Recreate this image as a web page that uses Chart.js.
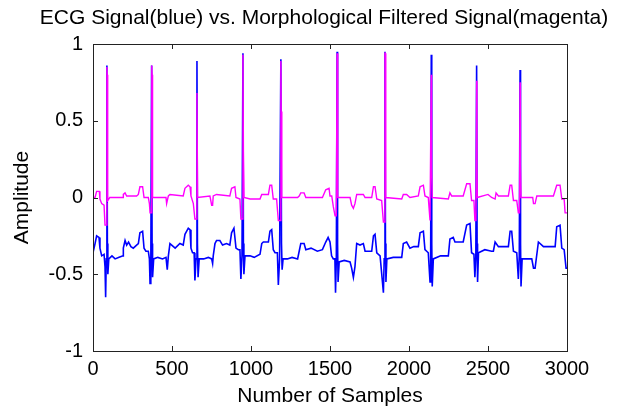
<!DOCTYPE html>
<html>
<head>
<meta charset="utf-8">
<script src="https://cdn.jsdelivr.net/npm/chart.js@4.4.1/dist/chart.umd.min.js"></script>
<style>
  html, body { margin: 0; padding: 0; background: #fff; }
  canvas { display: block; }
</style>
</head>
<body>
<canvas id="ecgChart" width="633" height="412"></canvas>
<script>
// ==========================================
// DATA
// ==========================================
const chartTitle = 'ECG Signal(blue) vs. Morphological Filtered Signal(magenta)';
const xTitle = 'Number of Samples';
const yTitle = 'Amplitude';
const xTicks = [0, 500, 1000, 1500, 2000, 2500, 3000];
const yTicks = [-1, -0.5, 0, 0.5, 1];

// [sample, amplitude]
const ecgSignal = [
  [0,-0.36],[13,-0.30],[23,-0.25],[38,-0.26],[44,-0.33],[55,-0.38],[70,-0.37],[76,-0.45],[80,-0.65],[84,-0.40],
  [88,0.86],[91,-0.30],[94,-0.50],[100,-0.40],[120,-0.38],[140,-0.40],[165,-0.39],[190,-0.38],[192,-0.33],[203,-0.28],
  [213,-0.31],[225,-0.29],[240,-0.32],[255,-0.33],[276,-0.31],[287,-0.30],[297,-0.23],[314,-0.22],[323,-0.33],[335,-0.35],
  [350,-0.35],[357,-0.40],[361,-0.56],[366,-0.40],[371,0.86],[374,-0.30],[377,-0.52],[384,-0.40],[410,-0.39],[440,-0.40],
  [462,-0.39],[470,-0.47],[477,-0.38],[487,-0.30],[520,-0.33],[550,-0.30],[571,-0.31],[582,-0.24],[603,-0.20],[614,-0.21],
  [620,-0.33],[630,-0.36],[640,-0.36],[645,-0.54],[652,-0.40],[658,0.89],[661,-0.30],[665,-0.52],[672,-0.40],[700,-0.40],
  [730,-0.39],[751,-0.40],[757,-0.43],[761,-0.38],[772,-0.30],[782,-0.28],[803,-0.28],[820,-0.31],[845,-0.30],[866,-0.31],
  [877,-0.23],[892,-0.20],[905,-0.33],[920,-0.34],[930,-0.34],[936,-0.53],[943,-0.38],[949,0.94],[952,-0.30],[955,-0.50],
  [962,-0.38],[994,-0.38],[1020,-0.39],[1057,-0.37],[1068,-0.30],[1078,-0.29],[1110,-0.29],[1120,-0.22],[1131,-0.21],[1141,-0.34],
  [1152,-0.36],[1167,-0.36],[1173,-0.57],[1181,-0.40],[1189,0.90],[1193,-0.30],[1197,-0.47],[1203,-0.40],[1230,-0.40],[1260,-0.39],
  [1295,-0.40],[1305,-0.35],[1315,-0.30],[1336,-0.30],[1347,-0.34],[1380,-0.33],[1420,-0.35],[1452,-0.34],[1473,-0.29],[1488,-0.26],
  [1500,-0.29],[1510,-0.38],[1521,-0.40],[1531,-0.40],[1535,-0.62],[1540,-0.40],[1545,0.95],[1548,-0.30],[1551,-0.55],[1558,-0.42],
  [1590,-0.41],[1627,-0.42],[1637,-0.46],[1648,-0.52],[1658,-0.45],[1669,-0.30],[1690,-0.31],[1711,-0.30],[1722,-0.35],[1764,-0.35],
  [1775,-0.25],[1785,-0.24],[1796,-0.36],[1817,-0.38],[1838,-0.62],[1843,-0.40],[1848,0.95],[1851,-0.30],[1854,-0.55],[1860,-0.40],
  [1900,-0.39],[1954,-0.39],[1964,-0.30],[1985,-0.29],[2006,-0.33],[2030,-0.32],[2059,-0.32],[2070,-0.23],[2091,-0.22],[2101,-0.34],
  [2122,-0.36],[2133,-0.55],[2137,-0.40],[2141,0.93],[2144,-0.30],[2147,-0.58],[2154,-0.40],[2200,-0.38],[2249,-0.38],[2259,-0.27],
  [2280,-0.26],[2291,-0.29],[2343,-0.29],[2365,-0.18],[2386,-0.17],[2396,-0.36],[2411,-0.37],[2417,-0.52],[2423,-0.38],[2428,0.86],
  [2431,-0.30],[2434,-0.55],[2440,-0.36],[2480,-0.34],[2523,-0.35],[2534,-0.35],[2545,-0.29],[2566,-0.32],[2629,-0.32],[2640,-0.22],
  [2650,-0.22],[2661,-0.35],[2682,-0.36],[2692,-0.53],[2698,-0.38],[2703,0.83],[2706,-0.30],[2709,-0.58],[2716,-0.40],[2750,-0.40],
  [2777,-0.40],[2788,-0.46],[2798,-0.46],[2819,-0.29],[2851,-0.32],[2925,-0.32],[2935,-0.19],[2956,-0.18],[2967,-0.33],[2982,-0.34],
  [2994,-0.46],[3000,-0.46]
];

const filteredSignal = [
  [0,0.00],[13,0.00],[23,0.04],[40,0.04],[44,-0.01],[55,-0.04],[70,-0.05],[76,-0.18],[84,-0.18],[88,0.85],
  [90,0.80],[93,-0.02],[106,0.00],[190,0.00],[192,0.02],[203,0.03],[213,0.01],[276,0.01],[287,0.02],[297,0.07],
  [314,0.07],[323,0.00],[350,0.00],[357,-0.04],[361,-0.10],[368,-0.10],[372,0.86],[374,0.80],[377,0.00],[462,0.00],
  [466,-0.04],[477,0.01],[487,0.02],[571,0.01],[582,0.06],[603,0.08],[614,0.07],[620,0.01],[635,-0.04],[645,-0.14],
  [654,-0.14],[658,0.68],[662,0.00],[740,0.01],[751,-0.05],[757,-0.05],[761,0.01],[782,0.02],[866,0.01],[877,0.06],
  [898,0.07],[905,0.00],[930,-0.01],[936,-0.14],[945,-0.14],[949,0.93],[952,0.30],[956,0.00],[994,-0.01],[1057,-0.01],
  [1068,0.02],[1110,0.02],[1120,0.08],[1131,0.08],[1141,-0.01],[1162,-0.01],[1173,-0.15],[1184,-0.15],[1189,0.89],[1191,0.56],
  [1195,0.00],[1295,0.00],[1305,0.01],[1315,0.03],[1336,0.03],[1347,0.00],[1452,0.00],[1473,0.05],[1494,0.06],[1500,0.01],
  [1511,0.01],[1521,-0.06],[1532,-0.12],[1540,-0.12],[1545,0.94],[1549,0.00],[1627,0.00],[1637,-0.05],[1648,-0.07],[1658,-0.04],
  [1669,0.02],[1711,0.02],[1722,0.00],[1764,0.00],[1775,0.07],[1785,0.07],[1796,-0.01],[1827,-0.02],[1838,-0.16],[1845,-0.16],
  [1848,0.94],[1850,0.94],[1853,0.00],[1954,-0.01],[1964,0.02],[1985,0.02],[2006,0.00],[2059,0.01],[2070,0.07],[2091,0.08],
  [2101,0.01],[2122,0.00],[2133,-0.15],[2138,-0.15],[2141,0.80],[2143,0.19],[2147,0.00],[2249,-0.01],[2259,0.03],[2270,0.01],
  [2343,0.01],[2365,0.09],[2386,0.09],[2396,-0.02],[2411,-0.02],[2417,-0.15],[2424,-0.15],[2428,0.76],[2430,0.20],[2432,0.00],
  [2500,0.02],[2523,0.00],[2545,-0.01],[2551,0.03],[2566,0.01],[2629,0.01],[2640,0.08],[2650,0.08],[2661,-0.02],[2682,-0.02],
  [2692,-0.10],[2699,-0.10],[2703,0.75],[2705,0.22],[2709,0.00],[2783,0.00],[2788,-0.04],[2798,-0.04],[2809,0.01],[2914,0.01],
  [2935,0.08],[2956,0.08],[2967,-0.01],[2982,-0.01],[2988,-0.10],[3000,-0.10]
];

// ==========================================
// MATLAB-LIKE FRAME: box, inward ticks, title
// ==========================================
const FONT = '"Liberation Sans", Arial, sans-serif';

const matlabFrame = {
  id: 'matlabFrame',
  afterDraw(chart) {
    const { ctx, chartArea: a, scales: { x, y } } = chart;
    ctx.save();
    ctx.strokeStyle = '#222';
    ctx.lineWidth = 1;
    ctx.strokeRect(a.left + 0.5, a.top + 0.5, a.right - a.left, a.bottom - a.top);

    ctx.beginPath();
    xTicks.forEach(v => {
      const px = Math.round(x.getPixelForValue(v)) + 0.5;
      ctx.moveTo(px, a.bottom); ctx.lineTo(px, a.bottom - 5);
      ctx.moveTo(px, a.top); ctx.lineTo(px, a.top + 5);
    });
    yTicks.forEach(v => {
      const py = Math.round(y.getPixelForValue(v)) + 0.5;
      ctx.moveTo(a.left, py); ctx.lineTo(a.left + 5, py);
      ctx.moveTo(a.right, py); ctx.lineTo(a.right - 5, py);
    });
    ctx.stroke();

    ctx.fillStyle = '#000';
    ctx.font = '21px ' + FONT;
    ctx.textAlign = 'center';
    ctx.textBaseline = 'middle';
    ctx.fillText(chartTitle, 324, 18);
    ctx.restore();
  }
};

// ==========================================
// CHART
// ==========================================
const ctx = document.getElementById('ecgChart').getContext('2d');

new Chart(ctx, {
  type: 'line',
  data: {
    datasets: [
      {
        label: 'ECG Signal',
        data: ecgSignal.map(([s, v]) => ({ x: s, y: v })),
        borderColor: '#0000ff',
        borderWidth: 1.6,
        pointRadius: 0,
        tension: 0,
        order: 2
      },
      {
        label: 'Morphological Filtered Signal',
        data: filteredSignal.map(([s, v]) => ({ x: s, y: v })),
        borderColor: '#ff00ff',
        borderWidth: 1.4,
        pointRadius: 0,
        tension: 0,
        order: 1
      }
    ]
  },
  options: {
    responsive: false,
    animation: false,
    layout: { padding: { top: 44, right: 66, left: 0, bottom: 0 } },
    plugins: {
      legend: { display: false },
      tooltip: { enabled: false },
      title: { display: false }
    },
    scales: {
      x: {
        type: 'linear',
        min: 0,
        max: 3000,
        afterBuildTicks: s => { s.ticks = xTicks.map(v => ({ value: v })); },
        afterFit: s => { s.height = 61; },
        grid: { display: false, drawTicks: false },
        border: { display: false },
        ticks: {
          color: '#000', padding: 6, maxRotation: 0,
          font: { family: FONT, size: 20 },
          callback: v => String(v)
        },
        title: {
          display: true,
          text: xTitle,
          color: '#000',
          padding: { top: 0, bottom: 3 },
          font: { family: FONT, size: 21 }
        }
      },
      y: {
        type: 'linear',
        min: -1,
        max: 1,
        afterBuildTicks: s => { s.ticks = yTicks.map(v => ({ value: v })); },
        afterFit: s => { s.width = 93; },
        grid: { display: false, drawTicks: false },
        border: { display: false },
        ticks: {
          color: '#000', padding: 10,
          font: { family: FONT, size: 20 },
          callback: v => String(v)
        },
        title: {
          display: true,
          text: yTitle,
          color: '#000',
          padding: { top: 10, bottom: 0 },
          font: { family: FONT, size: 21 }
        }
      }
    }
  },
  plugins: [matlabFrame]
});
</script>
</body>
</html>
